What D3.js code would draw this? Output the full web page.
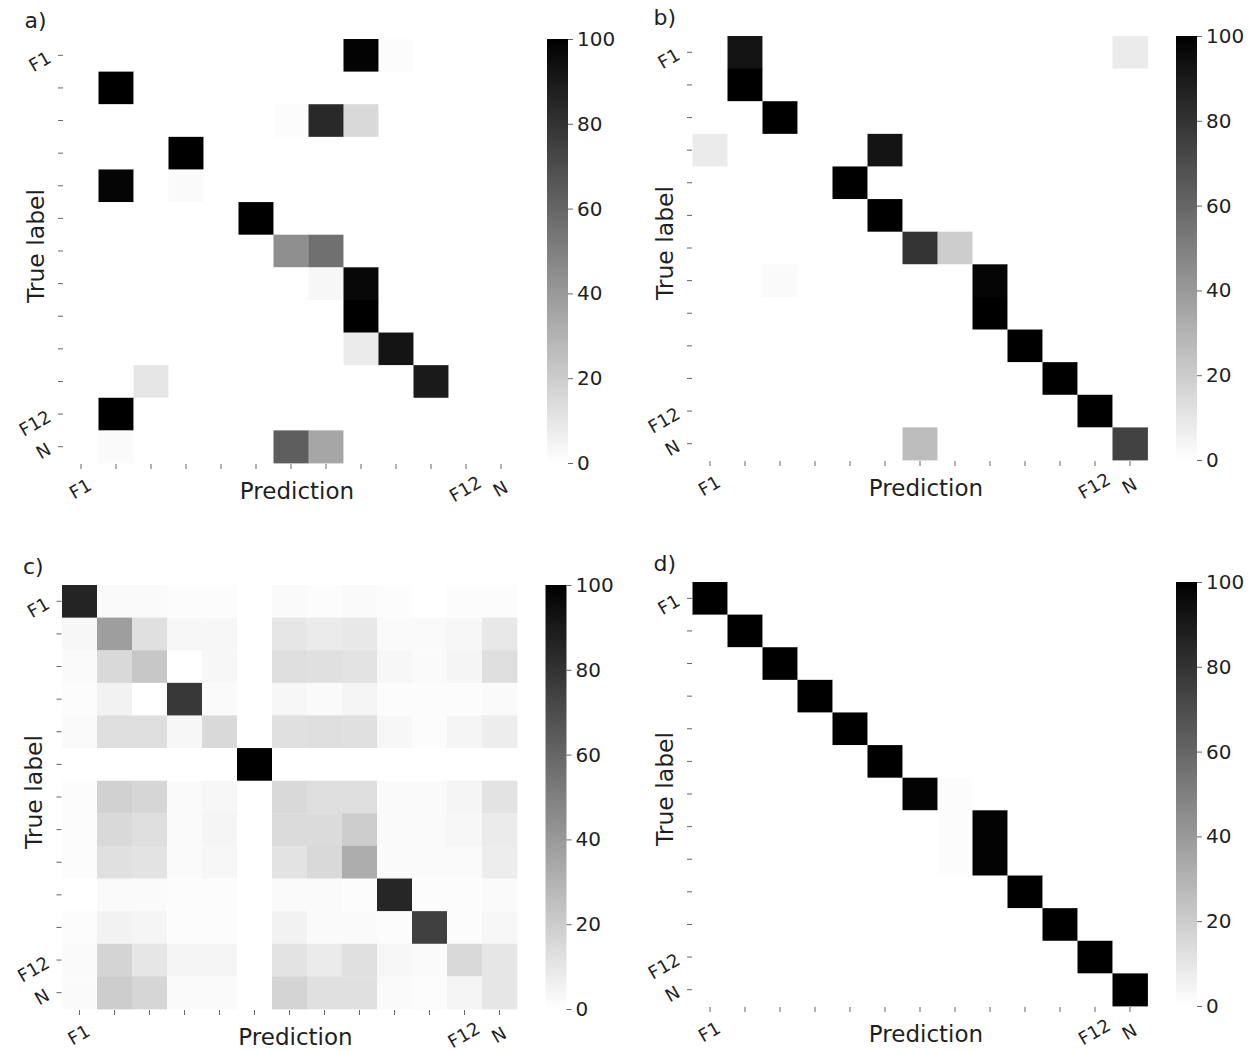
<!DOCTYPE html>
<html>
<head>
<meta charset="utf-8">
<script src="https://cdn.jsdelivr.net/npm/d3@7"></script>
<style>
  body { margin: 0; background: #fff; }
  svg { display: block; font-family: "DejaVu Sans", sans-serif; }
</style>
</head>
<body>
<div id="chart"></div>
<script>
// class labels, only some of them get a tick label
var categories = ["F1", "F2", "F3", "F4", "F5", "F6", "F7", "F8", "F9", "F10", "F11", "F12", "N"];
var shownLabels = ["F1", "F12", "N"];
var cbarTicks = [0, 20, 40, 60, 80, 100];

// confusion matrices in percent, rows = true label, cols = prediction
var matrixA = [
    [0, 0, 0, 0, 0, 0, 0, 0, 99, 1, 0, 0, 0],
    [0, 100, 0, 0, 0, 0, 0, 0, 0, 0, 0, 0, 0],
    [0, 0, 0, 0, 0, 0, 1, 84, 15, 0, 0, 0, 0],
    [0, 0, 0, 100, 0, 0, 0, 0, 0, 0, 0, 0, 0],
    [0, 98, 0, 2, 0, 0, 0, 0, 0, 0, 0, 0, 0],
    [0, 0, 0, 0, 0, 100, 0, 0, 0, 0, 0, 0, 0],
    [0, 0, 0, 0, 0, 0, 44, 56, 0, 0, 0, 0, 0],
    [0, 0, 0, 0, 0, 0, 0, 3, 97, 0, 0, 0, 0],
    [0, 0, 0, 0, 0, 0, 0, 0, 100, 0, 0, 0, 0],
    [0, 0, 0, 0, 0, 0, 0, 0, 8, 92, 0, 0, 0],
    [0, 0, 10, 0, 0, 0, 0, 0, 0, 0, 90, 0, 0],
    [0, 100, 0, 0, 0, 0, 0, 0, 0, 0, 0, 0, 0],
    [0, 2, 0, 0, 0, 0, 63, 35, 0, 0, 0, 0, 0]
];

var matrixB = [
    [0, 92, 0, 0, 0, 0, 0, 0, 0, 0, 0, 0, 8],
    [0, 100, 0, 0, 0, 0, 0, 0, 0, 0, 0, 0, 0],
    [0, 0, 100, 0, 0, 0, 0, 0, 0, 0, 0, 0, 0],
    [8, 0, 0, 0, 0, 92, 0, 0, 0, 0, 0, 0, 0],
    [0, 0, 0, 0, 100, 0, 0, 0, 0, 0, 0, 0, 0],
    [0, 0, 0, 0, 0, 100, 0, 0, 0, 0, 0, 0, 0],
    [0, 0, 0, 0, 0, 0, 80, 20, 0, 0, 0, 0, 0],
    [0, 0, 2, 0, 0, 0, 0, 0, 98, 0, 0, 0, 0],
    [0, 0, 0, 0, 0, 0, 0, 0, 100, 0, 0, 0, 0],
    [0, 0, 0, 0, 0, 0, 0, 0, 0, 100, 0, 0, 0],
    [0, 0, 0, 0, 0, 0, 0, 0, 0, 0, 100, 0, 0],
    [0, 0, 0, 0, 0, 0, 0, 0, 0, 0, 0, 100, 0],
    [0, 0, 0, 0, 0, 0, 26, 0, 0, 0, 0, 0, 74]
];

var matrixC = [
    [86, 2, 2, 1, 1, 0, 2, 1, 2, 1, 0, 1, 1],
    [3, 38, 12, 3, 3, 0, 10, 8, 9, 2, 2, 3, 9],
    [2, 15, 22, 0, 3, 0, 13, 12, 11, 3, 2, 4, 13],
    [1, 5, 0, 78, 2, 0, 3, 2, 4, 1, 1, 1, 2],
    [2, 13, 13, 3, 15, 0, 12, 13, 12, 3, 1, 4, 7],
    [0, 0, 0, 0, 0, 100, 0, 0, 0, 0, 0, 0, 0],
    [1, 18, 16, 2, 3, 0, 15, 13, 13, 2, 2, 4, 11],
    [1, 15, 13, 2, 4, 0, 14, 14, 20, 2, 2, 3, 8],
    [1, 12, 11, 2, 3, 0, 11, 15, 32, 2, 2, 2, 7],
    [0, 2, 2, 1, 1, 0, 2, 2, 1, 85, 1, 1, 2],
    [1, 5, 4, 1, 1, 0, 5, 2, 2, 1, 75, 1, 3],
    [2, 17, 10, 4, 4, 0, 11, 8, 12, 3, 2, 15, 10],
    [2, 20, 16, 2, 2, 0, 17, 12, 12, 2, 1, 4, 10]
];

var matrixD = [
    [100, 0, 0, 0, 0, 0, 0, 0, 0, 0, 0, 0, 0],
    [0, 100, 0, 0, 0, 0, 0, 0, 0, 0, 0, 0, 0],
    [0, 0, 100, 0, 0, 0, 0, 0, 0, 0, 0, 0, 0],
    [0, 0, 0, 100, 0, 0, 0, 0, 0, 0, 0, 0, 0],
    [0, 0, 0, 0, 100, 0, 0, 0, 0, 0, 0, 0, 0],
    [0, 0, 0, 0, 0, 100, 0, 0, 0, 0, 0, 0, 0],
    [0, 0, 0, 0, 0, 0, 99, 1, 0, 0, 0, 0, 0],
    [0, 0, 0, 0, 0, 0, 0, 1, 99, 0, 0, 0, 0],
    [0, 0, 0, 0, 0, 0, 0, 1, 99, 0, 0, 0, 0],
    [0, 0, 0, 0, 0, 0, 0, 0, 0, 100, 0, 0, 0],
    [0, 0, 0, 0, 0, 0, 0, 0, 0, 0, 100, 0, 0],
    [0, 0, 0, 0, 0, 0, 0, 0, 0, 0, 0, 100, 0],
    [0, 0, 0, 0, 0, 0, 0, 0, 0, 0, 0, 0, 100]
];

var width = 1252;
var height = 1051;
var gridW = 455;
var gridH = 424;
var textColor = "#1f1f1f";
var tickColor = "#666";

var panels = [
    { letter: "a)", data: matrixA, x: 63.5, y: 39 },
    { letter: "b)", data: matrixB, x: 692.5, y: 36 },
    { letter: "c)", data: matrixC, x: 62, y: 585 },
    { letter: "d)", data: matrixD, x: 692.5, y: 582 }
];

// linear white -> black, like gray_r
var color = d3.scaleLinear().domain([0, 100]).range(["#ffffff", "#000000"]);

var svg = d3.select("#chart").append("svg")
    .attr("width", width)
    .attr("height", height);

var grad = svg.append("defs").append("linearGradient")
    .attr("id", "cbar")
    .attr("x1", 0).attr("y1", 1)
    .attr("x2", 0).attr("y2", 0);

grad.selectAll("stop")
    .data(d3.range(0, 101, 10))
    .enter().append("stop")
    .attr("offset", function (d) { return d + "%"; })
    .attr("stop-color", function (d) { return color(d); });

panels.forEach(drawPanel);

function styleAxis(g, size) {
    g.select(".domain").remove();
    g.selectAll(".tick line").attr("stroke", tickColor).attr("stroke-width", 1);
    g.selectAll(".tick text")
        .attr("fill", textColor)
        .attr("font-size", size)
        .attr("font-family", "DejaVu Sans, sans-serif");
}

function drawPanel(p) {
    var g = svg.append("g")
        .attr("transform", "translate(" + p.x + "," + p.y + ")");

    var x = d3.scaleBand().domain(categories).range([0, gridW]);
    var y = d3.scaleBand().domain(categories).range([0, gridH]);

    var cells = [];
    p.data.forEach(function (row, i) {
        row.forEach(function (v, j) {
            cells.push({ row: categories[i], col: categories[j], value: v });
        });
    });

    g.selectAll("rect.cell")
        .data(cells)
        .enter().append("rect")
        .attr("class", "cell")
        .attr("x", function (d) { return x(d.col); })
        .attr("y", function (d) { return y(d.row); })
        .attr("width", x.bandwidth() + 0.4)
        .attr("height", y.bandwidth() + 0.4)
        .attr("fill", function (d) { return color(d.value); });

    var fmt = function (d) { return shownLabels.indexOf(d) >= 0 ? d : ""; };

    // y axis (true label)
    var yAxis = g.append("g")
        .attr("transform", "translate(-0.5,0)")
        .call(d3.axisLeft(y).tickSize(5).tickFormat(fmt));
    styleAxis(yAxis, 18);
    yAxis.selectAll(".tick text")
        .attr("x", 0)
        .attr("dy", null)
        .attr("text-anchor", "end")
        .attr("dominant-baseline", "middle")
        .attr("transform", "translate(-13,2) rotate(-30)");

    // x axis (prediction)
    var xAxis = g.append("g")
        .attr("transform", "translate(0," + (gridH + 1) + ")")
        .call(d3.axisBottom(x).tickSize(5).tickFormat(fmt));
    styleAxis(xAxis, 18);
    xAxis.selectAll(".tick text")
        .attr("y", 0)
        .attr("dy", null)
        .attr("text-anchor", "middle")
        .attr("dominant-baseline", "middle")
        .attr("transform", "translate(0,26) rotate(-30)");

    // axis titles
    g.append("text")
        .attr("x", gridW / 2 + 6)
        .attr("y", gridH + 36)
        .attr("text-anchor", "middle")
        .attr("font-size", 23)
        .attr("fill", textColor)
        .text("Prediction");

    g.append("text")
        .attr("transform", "translate(-28," + (gridH / 2 - 5) + ") rotate(-90)")
        .attr("text-anchor", "middle")
        .attr("dominant-baseline", "central")
        .attr("font-size", 23.5)
        .attr("fill", textColor)
        .text("True label");

    g.append("text")
        .attr("x", -39)
        .attr("y", -11)
        .attr("font-size", 22)
        .attr("fill", textColor)
        .text(p.letter);

    // colorbar
    var cb = g.append("g").attr("transform", "translate(483.5,0)");
    cb.append("rect")
        .attr("width", 21)
        .attr("height", gridH)
        .attr("fill", "url(#cbar)");

    var cy = d3.scaleLinear().domain([0, 100]).range([gridH, 0]);
    var cAxis = cb.append("g")
        .attr("transform", "translate(21,0)")
        .call(d3.axisRight(cy).tickValues(cbarTicks).tickSize(5).tickPadding(4));
    styleAxis(cAxis, 20);
}
</script>
</body>
</html>
